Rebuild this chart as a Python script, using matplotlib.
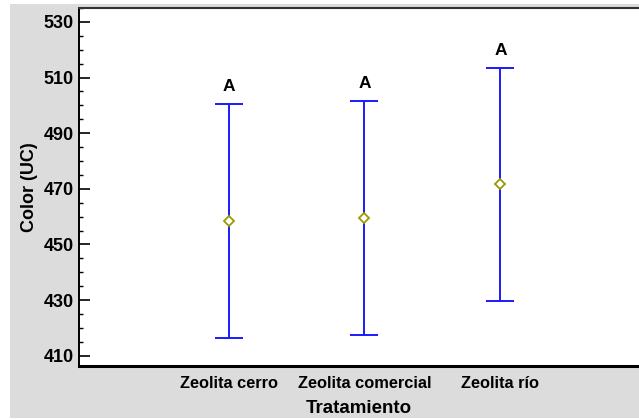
import matplotlib
matplotlib.use("Agg")
import matplotlib.pyplot as plt
from matplotlib.patches import Rectangle
from matplotlib.ticker import MultipleLocator

categories = ["Zeolita cerro", "Zeolita comercial", "Zeolita río"]
means = [458.4, 459.5, 471.6]
lower = [416.5, 417.4, 429.5]
upper = [500.5, 501.6, 513.5]
groups = ["A", "A", "A"]
yticks = [410, 430, 450, 470, 490, 510, 530]

plt.rcParams['font.family'] = ['Liberation Sans', 'DejaVu Sans']
plt.rcParams['font.weight'] = 'bold'

W, H = 639, 419
fig = plt.figure(figsize=(W / 100, H / 100), dpi=100)
fig.patch.set_facecolor('white')
bg = Rectangle((10 / W, 1 / H), 1 - 10 / W, (418 - 4) / H,
               transform=fig.transFigure, facecolor='#dcdcdc',
               edgecolor='none', zorder=-10)
fig.add_artist(bg)

ax = fig.add_axes([79 / W, (H - 366) / H, (W - 79) / W, (366 - 8) / H])
ax.set_zorder(1)
ax.set_facecolor('white')

x = list(range(1, len(categories) + 1))
yerr_lo = [m - l for m, l in zip(means, lower)]
yerr_hi = [u - m for m, u in zip(means, upper)]
ax.errorbar(x, means, yerr=[yerr_lo, yerr_hi], fmt='none', ecolor='#1a1aff',
            elinewidth=1.4, capsize=9.8, capthick=1.4, zorder=2)
ax.plot(x, means, linestyle='none', marker='D', markersize=5.5,
        markerfacecolor='white', markeredgecolor='#9a9a00', markeredgewidth=1.3,
        zorder=3)
for xi, u, g in zip(x, upper, groups):
    ax.annotate(g, (xi, u), xytext=(0, 9), textcoords='offset points',
                ha='center', va='baseline', fontsize=12.5, fontweight='bold')

ax.set_xlim(-0.1, 4.02)
ax.set_ylim(406.3, 535)
ax.set_xticks(x)
ax.set_xticklabels(categories, fontsize=11.8, fontweight='bold')
ax.set_yticks(yticks)
ax.yaxis.set_minor_locator(MultipleLocator(5))
ax.tick_params(axis='x', length=0, pad=7.5)
ax.tick_params(axis='y', which='major', direction='in', length=8, width=1.2,
               labelsize=13, pad=4)
ax.tick_params(axis='y', which='minor', direction='in', length=3.2, width=1.0)
for lab in ax.get_yticklabels():
    lab.set_fontweight('bold')

ax.set_xlabel('Tratamiento', fontsize=13.5, fontweight='bold', labelpad=6)
ax.set_ylabel('Color (UC)', fontsize=13, fontweight='bold', labelpad=4)

ax.spines['right'].set_visible(False)
ax.spines['top'].set_color('#333333')
ax.spines['top'].set_linewidth(1.5)
ax.spines['left'].set_linewidth(1.4)
ax.spines['bottom'].set_linewidth(2.2)

fig.savefig('out.png', dpi=100)
